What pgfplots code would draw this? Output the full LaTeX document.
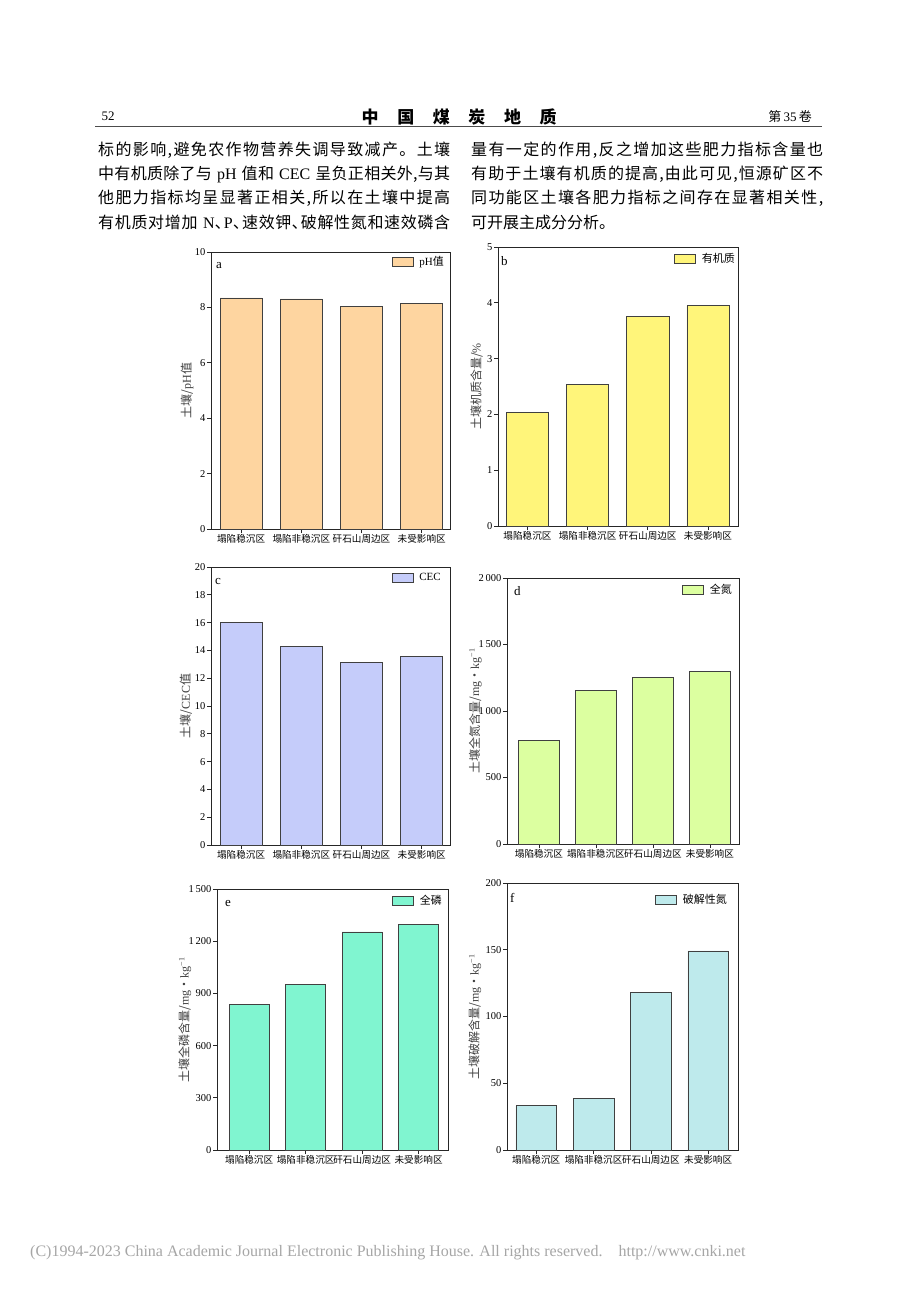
\documentclass[border=0pt]{standalone}
\usepackage{fontspec}
\setmainfont{Liberation Serif}
\newfontfamily\cjk{Noto Sans CJK SC}
\usepackage{pgfplots}
\pgfplotsset{compat=1.18}

\definecolor{ca}{RGB}{254,213,160}
\definecolor{cb}{RGB}{255,245,122}
\definecolor{cc}{RGB}{197,204,250}
\definecolor{cd}{RGB}{220,255,160}
\definecolor{ce}{RGB}{128,245,208}
\definecolor{cf}{RGB}{190,234,236}

\def\spreadend{SPREADEND}
\def\spreadi#1{#1\spreadii}
\def\spreadii#1{\ifx\spreadend#1\else\hskip 0pt plus 1fil\relax#1\expandafter\spreadii\fi}
\newcommand\jline[1]{\makebox[352pt][s]{\spreadi#1\spreadend}}

\tikzset{letter/.style={anchor=west, font=\fontsize{13}{13}\selectfont, inner sep=0pt}}
\pgfplotsset{
  panel/.style={
    scale only axis, ybar, bar width=0.7,
    ymin=0, enlargelimits=false,
    axis line style={black!85, line width=0.7pt},
    tick style={black!85, line width=0.7pt},
    major tick length=4pt,
    tick align=outside, tick pos=left,
    xtick={0,1,2,3},
    xticklabels={塌陷稳沉区,塌陷非稳沉区,矸石山周边区,未受影响区},
    x tick label style={font=\cjk\fontsize{9.6}{9.6}\selectfont, inner sep=1.5pt},
    y tick label style={font=\fontsize{10.5}{10.5}\selectfont, inner sep=1.5pt},
    /pgf/number format/assume math mode=true,
    /pgf/number format/1000 sep={\,},
    ylabel style={font=\fontsize{12}{12}\selectfont, text=black!75, anchor=center},
    legend style={draw=none, fill=none, at={(rel axis cs:1,1)}, anchor=north east,
      font=\fontsize{11}{11}\selectfont, inner sep=0pt, column sep=4pt, cells={anchor=west}},
  },
  lg/.style={draw=black!75, line width=0.6pt,
    legend image code/.code={\draw[##1] (0pt,-4.5pt) rectangle (21pt,4.5pt);}},
}

\begin{document}
\begin{tikzpicture}
\fill[white] (0pt,0pt) rectangle (920pt,-1291pt);
\useasboundingbox (0pt,0pt) rectangle (920pt,-1291pt);

% header
\node[anchor=west, inner sep=0pt, font=\fontsize{13}{13}\selectfont] at (101.5pt,-116.7pt) {52};
\node[anchor=west, inner sep=0pt, font=\cjk\bfseries\fontsize{17}{17}\selectfont] at (361.5pt,-116.7pt)
  {\makebox[195pt][s]{中\hfill 国\hfill 煤\hfill 炭\hfill 地\hfill 质}};
\node[anchor=east, inner sep=0pt, font=\fontsize{13}{13}\selectfont] at (812pt,-116.7pt) {{\cjk 第}\,35\,{\cjk 卷}};
\draw[line width=0.7pt, black!70] (95pt,-126.7pt) -- (822pt,-126.7pt);

% body text
\begin{scope}[every node/.style={anchor=west, inner sep=0pt, font=\cjk\fontsize{16}{16}\selectfont}]
\node at (98pt,-150pt) {\jline{标的影响,避免农作物营养失调导致减产。土壤}};
\node at (98pt,-174.3pt) {\jline{中有机质除了与{{\rmfamily\hspace{0.3em}pH\hspace{0.3em}}}值和{{\rmfamily\hspace{0.3em}CEC\hspace{0.3em}}}呈负正相关外,与其}};
\node at (98pt,-198.3pt) {\jline{他肥力指标均呈显著正相关,所以在土壤中提高}};
\node at (98pt,-222.3pt) {\jline{有机质对增加{{\rmfamily\hspace{0.3em}N}}､{{\rmfamily P}}､速效钾､破解性氮和速效磷含}};
\node at (471pt,-150pt) {\jline{量有一定的作用,反之增加这些肥力指标含量也}};
\node at (471pt,-174.3pt) {\jline{有助于土壤有机质的提高,由此可见,恒源矿区不}};
\node at (471pt,-198.3pt) {\jline{同功能区土壤各肥力指标之间存在显著相关性,}};
\node at (471pt,-222.3pt) {可开展主成分分析。};
\end{scope}

% (a)
\begin{axis}[panel, at={(211pt,-529pt)}, anchor=south west, width=239pt, height=277pt,
  xmin=-0.5, xmax=3.47, ymax=10, ytick={0,2,...,10},
  ylabel={{\cjk 土壤/}pH{\cjk 值}}, ylabel style={at={(axis description cs:-0.100,0.5)}},
  legend style={xshift=-4pt, yshift=-2pt}]
\addplot[lg, fill=ca] coordinates {(0,8.34) (1,8.31) (2,8.03) (3,8.14)};
\addlegendentry{pH{\cjk 值}}
\node[letter, xshift=5pt, yshift=-14pt] at (rel axis cs:0,1) {a};
\end{axis}

% (b)
\begin{axis}[panel, at={(498pt,-526pt)}, anchor=south west, width=240pt, height=279pt,
  xmin=-0.49, xmax=3.5, ymax=5, ytick={0,1,...,5},
  ylabel={{\cjk 土壤机质含量/}\%}, ylabel style={at={(axis description cs:-0.089,0.5)}},
  legend style={xshift=-1pt, yshift=-4pt}]
\addplot[lg, fill=cb] coordinates {(0,2.03) (1,2.54) (2,3.76) (3,3.95)};
\addlegendentry{{\cjk 有机质}}
\node[letter, xshift=3pt, yshift=-14pt] at (rel axis cs:0,1) {b};
\end{axis}

% (c)
\begin{axis}[panel, at={(211pt,-845pt)}, anchor=south west, width=239pt, height=278pt,
  xmin=-0.5, xmax=3.47, ymax=20, ytick={0,2,...,20},
  ylabel={{\cjk 土壤/}CEC{\cjk 值}}, ylabel style={at={(axis description cs:-0.105,0.5)}},
  legend style={xshift=-7pt, yshift=-4pt}]
\addplot[lg, fill=cc] coordinates {(0,16.0) (1,14.28) (2,13.12) (3,13.55)};
\addlegendentry{CEC}
\node[letter, xshift=4pt, yshift=-14pt] at (rel axis cs:0,1) {c};
\end{axis}

% (d)
\begin{axis}[panel, at={(507pt,-844pt)}, anchor=south west, width=232pt, height=266pt,
  bar width=0.71, xmin=-0.56, xmax=3.51, ymax=2000, ytick={0,500,...,2000},
  ylabel={{\cjk 土壤全氮含量/}mg{\cjk ・}kg\textsuperscript{−1}}, ylabel style={at={(axis description cs:-0.137,0.5)}},
  legend style={xshift=-5pt, yshift=-4pt}]
\addplot[lg, fill=cd] coordinates {(0,777) (1,1157) (2,1253) (3,1295)};
\addlegendentry{{\cjk 全氮}}
\node[letter, xshift=7pt, yshift=-13pt] at (rel axis cs:0,1) {d};
\end{axis}

% (e)
\begin{axis}[panel, at={(217pt,-1150pt)}, anchor=south west, width=231pt, height=261pt,
  bar width=0.71, xmin=-0.57, xmax=3.52, ymax=1500, ytick={0,300,...,1500},
  ylabel={{\cjk 土壤全磷含量/}mg{\cjk ・}kg\textsuperscript{−1}}, ylabel style={at={(axis description cs:-0.139,0.5)}},
  legend style={xshift=-4pt, yshift=-4pt}]
\addplot[lg, fill=ce] coordinates {(0,835) (1,952) (2,1253) (3,1295)};
\addlegendentry{{\cjk 全磷}}
\node[letter, xshift=8pt, yshift=-14pt] at (rel axis cs:0,1) {e};
\end{axis}

% (f)
\begin{axis}[panel, at={(507pt,-1150pt)}, anchor=south west, width=231pt, height=267pt,
  bar width=0.71, xmin=-0.51, xmax=3.52, ymax=200, ytick={0,50,...,200},
  ylabel={{\cjk 土壤破解含量/}mg{\cjk ・}kg\textsuperscript{−1}}, ylabel style={at={(axis description cs:-0.139,0.5)}},
  legend style={xshift=-9pt, yshift=-9pt}]
\addplot[lg, fill=cf] coordinates {(0,33.2) (1,38.8) (2,118.3) (3,149.2)};
\addlegendentry{{\cjk 破解性氮}}
\node[letter, xshift=3pt, yshift=-15pt] at (rel axis cs:0,1) {f};
\end{axis}

% footer
\node[anchor=west, inner sep=0pt, text=black!35, font=\fontsize{16}{16}\selectfont] at (30pt,-1253pt)
  {(C)1994-2023 China Academic Journal Electronic Publishing House. All rights reserved.\hspace{1em}http://www.cnki.net};
\end{tikzpicture}
\end{document}
